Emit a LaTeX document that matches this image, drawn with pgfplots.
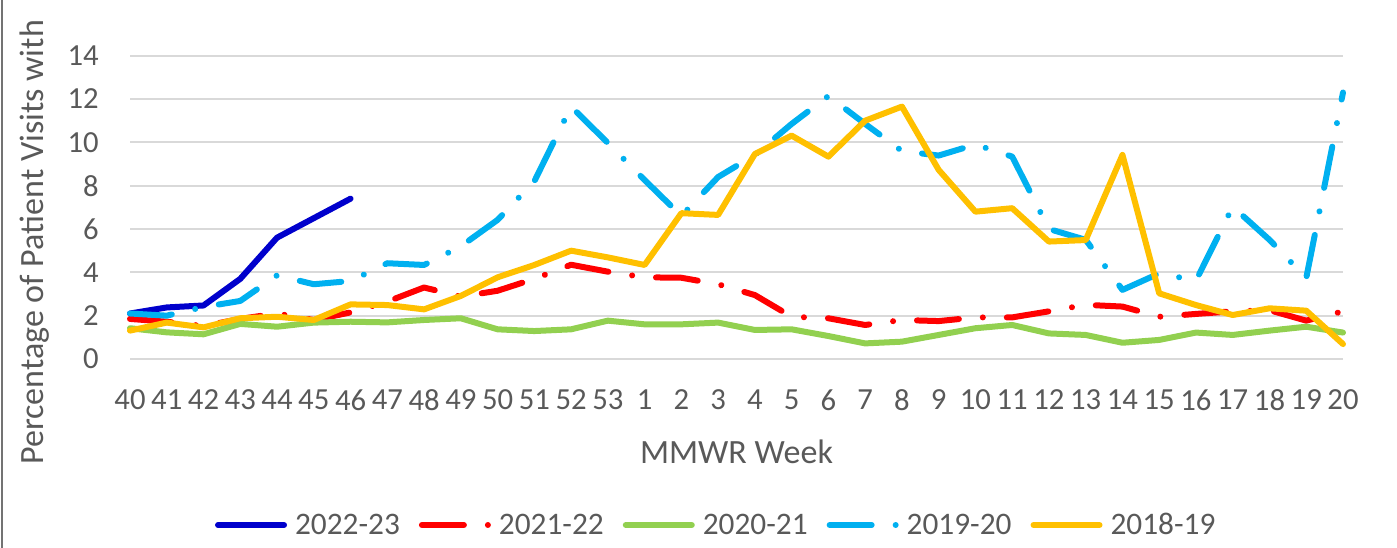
\documentclass[border=0pt]{standalone}
\usepackage{pgfplots}
\pgfplotsset{compat=1.18}
\usepackage{fontspec}
\setmainfont{Carlito}
\definecolor{cA}{HTML}{0000CC}
\definecolor{cB}{HTML}{FF0000}
\definecolor{cC}{HTML}{92D050}
\definecolor{cD}{HTML}{00B0F0}
\definecolor{cE}{HTML}{FFC000}
\definecolor{txt}{HTML}{595959}
\definecolor{gridc}{HTML}{D9D9D9}
\begin{document}
\begin{tikzpicture}
\useasboundingbox (0,0) rectangle (1047.75bp,411bp);
\draw[color=black!55, line width=1.5bp] (1.5bp,0) -- (1.5bp,411bp);
\begin{axis}[
  at={(97.5bp,141.75bp)}, anchor=south west,
  width=909.75bp, height=227.5bp, scale only axis,
  xmin=0, xmax=33, ymin=0, ymax=14,
  axis line style={draw=none},
  xtick={0,...,33},
  xticklabels={40,41,42,43,44,45,46,47,48,49,50,51,52,53,1,2,3,4,5,6,7,8,9,10,11,12,13,14,15,16,17,18,19,20},
  ytick={0,2,4,6,8,10,12,14},
  /pgf/number format/assume math mode=true,
  ymajorgrids, grid style={color=gridc, line width=1.5bp},
  major tick length=0pt,
  tick label style={font=\fontsize{23bp}{27bp}\selectfont, text=txt, inner sep=0pt},
  xticklabel style={anchor=center, yshift=-30.75bp},
  yticklabel style={anchor=east, xshift=-23.25bp},
  xlabel={MMWR Week},
  xlabel style={at={(axis description cs:0.5,-0.3066)}, anchor=center, font=\fontsize{25.5bp}{30bp}\selectfont, text=txt, inner sep=0pt},
  ylabel={Percentage of Patient Visits with},
  ylabel style={at={(axis description cs:-0.0712,-0.34945)}, rotate=0, anchor=base west, font=\fontsize{25.5bp}{30bp}\selectfont, text=txt, inner sep=0pt},
  clip=false,
  every axis plot/.append style={line width=4.5bp, line cap=round, line join=round, mark=none},
  legend columns=5,
  legend image code/.code={\draw[#1] (0bp,0bp) -- (49.5bp,0bp);},
  legend style={at={(axis description cs:0.0701,-0.5473)}, anchor=west, draw=none, fill=none,
    inner sep=0pt, outer sep=0pt,
    font=\fontsize{23.5bp}{28bp}\selectfont, text=txt,
    nodes={inner sep=0pt},
    /tikz/every odd column/.append style={column sep=6bp},
    /tikz/every even column/.append style={column sep=14.25bp}},
]
\addplot[color=cA] coordinates {(0,2.1) (1,2.38) (2,2.47) (3,3.7) (4,5.6) (5,6.5) (6,7.4)};
\addlegendentry{2022-23}
\addplot[color=cB, dash pattern=on 31.5bp off 18bp on 0.01bp off 18bp] coordinates {
(0,1.85) (1,1.72) (2,1.52) (3,1.85) (4,2.1) (5,1.8) (6,2.15) (7,2.65) (8,3.3) (9,2.88)
(10,3.15) (11,3.7) (12,4.35) (13,4.03) (14,3.77) (15,3.75) (16,3.45) (17,2.95) (18,1.95) (19,1.88)
(20,1.57) (21,1.8) (22,1.75) (23,1.92) (24,1.92) (25,2.2) (26,2.5) (27,2.42) (28,1.95) (29,2.08)
(30,2.2) (31,2.25) (32,1.77) (33,2.2)};
\addlegendentry{2021-22}
\addplot[color=cC] coordinates {
(0,1.42) (1,1.23) (2,1.14) (3,1.62) (4,1.49) (5,1.68) (6,1.72) (7,1.69) (8,1.8) (9,1.88)
(10,1.37) (11,1.29) (12,1.37) (13,1.77) (14,1.6) (15,1.6) (16,1.68) (17,1.34) (18,1.37) (19,1.06)
(20,0.72) (21,0.8) (22,1.11) (23,1.42) (24,1.57) (25,1.18) (26,1.11) (27,0.75) (28,0.88) (29,1.22)
(30,1.11) (31,1.31) (32,1.49) (33,1.22)};
\addlegendentry{2020-21}
\addplot[color=cD, dash pattern=on 31.5bp off 18bp on 0.01bp off 18bp] coordinates {
(0,2.1) (1,2.0) (2,2.4) (3,2.68) (4,3.86) (5,3.45) (6,3.6) (7,4.42) (8,4.34) (9,5.2)
(10,6.42) (11,8.2) (12,11.65) (13,9.97) (14,8.26) (15,6.6) (16,8.4) (17,9.42) (18,10.85) (19,12.14)
(20,10.85) (21,9.6) (22,9.39) (23,9.9) (24,9.34) (25,6.0) (26,5.5) (27,3.19) (28,3.95) (29,3.62)
(30,7.03) (31,5.5) (32,3.74) (33,12.3)};
\addlegendentry{2019-20}
\addplot[color=cE] coordinates {
(0,1.31) (1,1.68) (2,1.46) (3,1.88) (4,1.95) (5,1.8) (6,2.52) (7,2.49) (8,2.29) (9,2.91)
(10,3.77) (11,4.34) (12,5.0) (13,4.69) (14,4.34) (15,6.73) (16,6.65) (17,9.46) (18,10.31) (19,9.34)
(20,11.0) (21,11.65) (22,8.73) (23,6.8) (24,6.96) (25,5.42) (26,5.49) (27,9.42) (28,3.03) (29,2.49)
(30,2.03) (31,2.34) (32,2.23) (33,0.69)};
\addlegendentry{2018-19}
\end{axis}
\end{tikzpicture}
\end{document}
